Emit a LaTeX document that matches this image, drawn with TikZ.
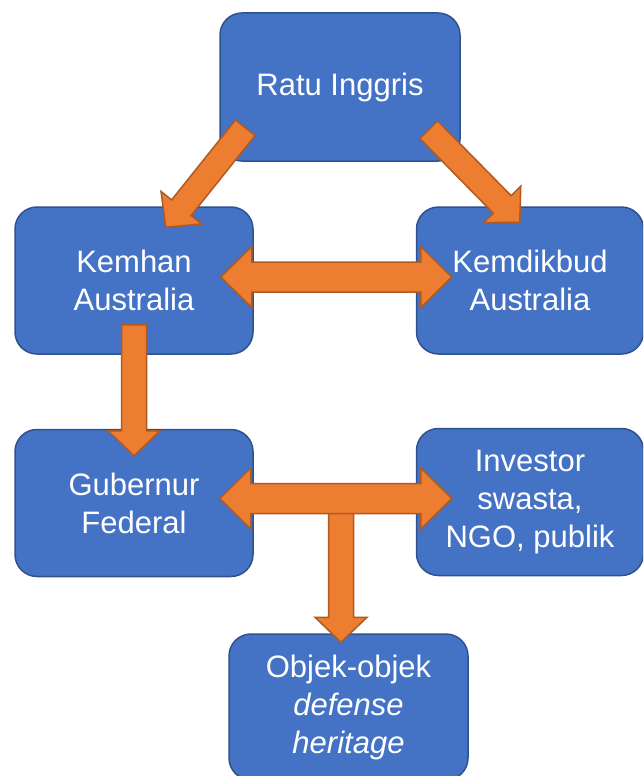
\documentclass[tikz,border=0pt]{standalone}
\usepackage{fontspec}
\setmainfont{Liberation Sans}
\usetikzlibrary{positioning, calc}
\definecolor{boxblue}{HTML}{4472C4}
\definecolor{boxedge}{HTML}{2F528F}
\definecolor{arroworange}{HTML}{ED7D31}
\definecolor{arrowedge}{HTML}{AE5A21}
\tikzset{
    unit/.style={rectangle, rounded corners=22pt, draw=boxedge, line width=1.5pt,
      fill=boxblue, text=white, align=center, inner sep=0pt,
      font=\fontsize{31}{38}\selectfont},
    arrowbody/.style={draw=arrowedge, fill=arroworange, line width=1.5pt, line join=miter},
}
% block arrow from tail #1 to tip #2
\newcommand{\blockarrow}[2]{%
  \coordinate (hb) at ($(#2)!25pt!(#1)$);
  \path[arrowbody] ($(#1)!12.5pt!90:(#2)$) -- ($(hb)!12.5pt!90:(#2)$) -- ($(hb)!26pt!90:(#2)$)
    -- (#2) -- ($(hb)!26pt!-90:(#2)$) -- ($(hb)!12.5pt!-90:(#2)$) -- ($(#1)!12.5pt!-90:(#2)$) -- cycle;
}
% block arrow with heads at #1 and #2
\newcommand{\twoarrow}[2]{%
  \coordinate (ha) at ($(#1)!31pt!(#2)$);
  \coordinate (hb) at ($(#2)!31pt!(#1)$);
  \path[arrowbody] (#1) -- ($(ha)!30.5pt!90:(#2)$) -- ($(ha)!15pt!90:(#2)$)
    -- ($(hb)!15pt!-90:(#1)$) -- ($(hb)!30.5pt!-90:(#1)$) -- (#2)
    -- ($(hb)!30.5pt!90:(#1)$) -- ($(hb)!15pt!90:(#1)$)
    -- ($(ha)!15pt!-90:(#2)$) -- ($(ha)!30.5pt!-90:(#2)$) -- cycle;
}

\begin{document}
\begin{tikzpicture}[x=1pt, y=1pt]
    \clip (0,0) rectangle (643,-776);

    \node[unit, minimum width=240pt, minimum height=148pt] (ratu) at (340,-87) {Ratu Inggris};
    \node[unit, minimum width=238pt, minimum height=147pt] (kemhan) at (134,-280.5) {Kemhan\\Australia};
    \node[unit, minimum width=227pt, minimum height=147pt, right=162pt of kemhan] (kemdikbud) {Kemdikbud\\Australia};
    \node[unit, minimum width=238pt, minimum height=147pt, below=74pt of kemhan] (gubernur) {Gubernur\\Federal};
    \node[unit, minimum width=227pt, minimum height=147pt, below=73pt of kemdikbud] (investor) {Investor\\swasta,\\NGO, publik};
    \node[unit, minimum width=239pt, minimum height=146pt] (objek) at (348.5,-707) {Objek-objek\\\textit{defense}\\\textit{heritage}};

    \coordinate (k0) at ([shift={(0,30)}]kemhan.south);
    \coordinate (k1) at ([shift={(0,-27)}]gubernur.north);
    \blockarrow{k0}{k1}

    \coordinate (tee) at ([shift={(-7.5,129)}]objek.north);
    \coordinate (o1) at ([shift={(-7.5,-9)}]objek.north);
    \blockarrow{tee}{o1}

    \coordinate (a0) at ([shift={(-33,3.5)}]kemhan.east);
    \coordinate (a1) at ([shift={(36,3.5)}]kemdikbud.west);
    \twoarrow{a0}{a1}

    \coordinate (b0) at ([shift={(-34,4.5)}]gubernur.east);
    \coordinate (b1) at ([shift={(36,3.5)}]investor.west);
    \twoarrow{b0}{b1}

    \coordinate (r0) at ([shift={(26,34)}]ratu.south west);
    \coordinate (r1) at ([shift={(-88,-21)}]kemhan.north east);
    \blockarrow{r0}{r1}

    \coordinate (s0) at ([shift={(-32,32)}]ratu.south east);
    \coordinate (s1) at ([shift={(104,-16)}]kemdikbud.north west);
    \blockarrow{s0}{s1}
\end{tikzpicture}
\end{document}
